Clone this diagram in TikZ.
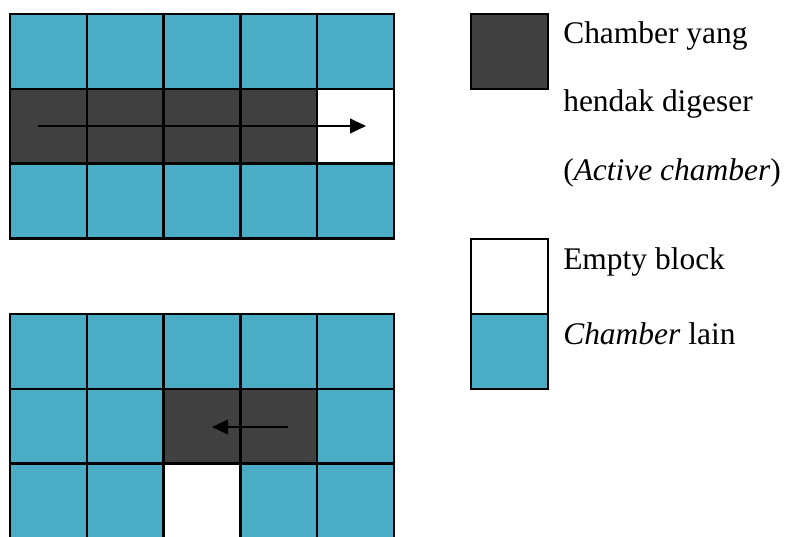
\documentclass[tikz,border=0pt]{standalone}
\usepackage{fontspec}
\setmainfont{Liberation Serif}
\usetikzlibrary{arrows.meta}
\definecolor{chamberblue}{HTML}{4BACC6}
\definecolor{activegray}{HTML}{404040}
\begin{document}
\begin{tikzpicture}[x=0.75pt,y=-0.75pt,
  cell/.style={draw=black,line width=1.9pt},
  other/.style={cell,fill=chamberblue},
  active/.style={cell,fill=activegray},
  empty/.style={cell,fill=white},
  move/.style={line width=1.5pt,-{Triangle[length=12pt,width=11pt]}},
  label/.style={anchor=base west,inner sep=0pt,font=\fontsize{23.6pt}{28pt}\selectfont}]
\useasboundingbox (0,0) rectangle (786,536);
\def\cw{76.8}
\def\ch{74.8}
% upper board: the active chamber fills row two, the empty block sits at its end
\foreach \c in {0,...,4} {
  \draw[other] (10+\c*\cw,14) rectangle ++(\cw,\ch);
  \draw[other] (10+\c*\cw,14+2*\ch) rectangle ++(\cw,\ch);
}
\foreach \c in {0,...,3}
  \draw[active] (10+\c*\cw,14+\ch) rectangle ++(\cw,\ch);
\draw[empty] (10+4*\cw,14+\ch) rectangle ++(\cw,\ch);
\coordinate (a1) at (38,126);
\coordinate (a2) at (366,126);
\draw[move] (a1) -- (a2);
% lower board: a two-cell active chamber moving left
\def\yb{314}
\foreach \c in {0,...,4}
  \draw[other] (10+\c*\cw,\yb) rectangle ++(\cw,\ch);
\foreach \c in {0,1,4}
  \draw[other] (10+\c*\cw,\yb+\ch) rectangle ++(\cw,\ch);
\foreach \c in {2,3}
  \draw[active] (10+\c*\cw,\yb+\ch) rectangle ++(\cw,\ch);
\foreach \c in {0,1,3,4}
  \draw[other] (10+\c*\cw,\yb+2*\ch) rectangle ++(\cw,\ch);
\draw[empty] (10+2*\cw,\yb+2*\ch) rectangle ++(\cw,\ch);
\coordinate (b1) at (288,427);
\coordinate (b2) at (212,427);
\draw[move] (b1) -- (b2);
% legend
\draw[active] (471,14) rectangle (548,89);
\draw[empty] (471,239) rectangle (548,314);
\draw[other] (471,314) rectangle (548,389);
\node[label] (l1) at (563,43) {Chamber yang};
\node[label] (l2) at (563,111) {hendak digeser};
\node[label] (l3) at (563,180) {(\textit{Active chamber})};
\node[label] (l4) at (563,269) {Empty block};
\node[label] (l5) at (563,344) {\textit{Chamber} lain};
\end{tikzpicture}
\end{document}
